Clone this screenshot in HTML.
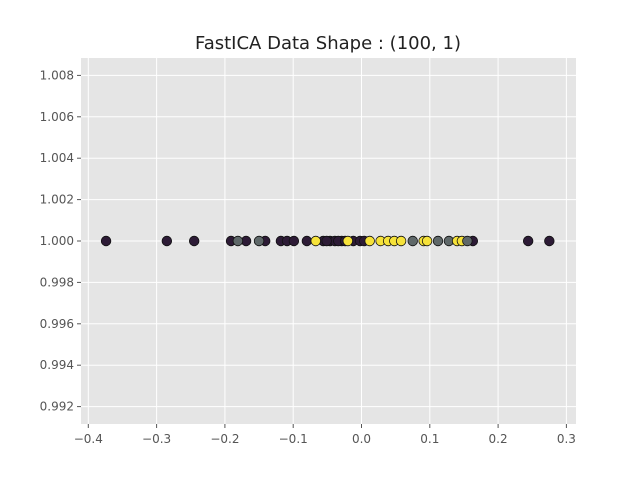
<!DOCTYPE html>
<html><head><meta charset="utf-8"><style>
body{margin:0;background:#fff;}
svg text{font-family:"DejaVu Sans","Liberation Sans",sans-serif;}
</style></head><body>
<svg id="chart" width="640" height="478" xmlns="http://www.w3.org/2000/svg">
<text x="328" y="49" text-anchor="middle" font-size="18" fill="#222">FastICA Data Shape : (100, 1)</text>
<rect x="81" y="58" width="495" height="366" fill="#e5e5e5"/>
<g id="grid"></g><g id="ticks"></g><g id="points"></g>
</svg>
<script>
const xTicks=[-0.4,-0.3,-0.2,-0.1,0.0,0.1,0.2,0.3];
const xTickLabels=["−0.4","−0.3","−0.2","−0.1","0.0","0.1","0.2","0.3"];
const yTicks=[0.992,0.994,0.996,0.998,1.000,1.002,1.004,1.006,1.008];
const yTickLabels=["0.992","0.994","0.996","0.998","1.000","1.002","1.004","1.006","1.008"];
const xValues=[-0.374,-0.285,-0.245,-0.191,-0.181,-0.169,-0.150,-0.141,-0.118,-0.109,-0.099,-0.080,-0.067,-0.056,-0.046,-0.039,-0.029,-0.020,-0.012,-0.002,0.012,0.028,0.039,0.048,0.058,0.075,0.091,0.096,0.112,0.128,0.140,0.147,0.155,0.163,0.244,0.275,-0.051,-0.034,-0.024,0.004];
const yValues=xValues.map(()=>1.0);
const labels=[0,0,0,0,1,0,1,0,0,0,0,0,2,0,0,0,0,2,0,0,2,2,2,2,2,1,2,2,1,1,2,2,1,0,0,0,0,0,0,0];
const colors=["#2d1b36","#5f6869","#f6e23a"];
const L=81,R=576,T=58,B=424;
const X=v=>361.5+(v)*683;
const Y=v=>241-(v-1.0)/0.002*41.4;
const ns="http://www.w3.org/2000/svg";
const grid=document.getElementById('grid'),ticks=document.getElementById('ticks'),pts=document.getElementById('points');
function mk(tag,attrs,parent){const e=document.createElementNS(ns,tag);for(const k in attrs)e.setAttribute(k,attrs[k]);parent.appendChild(e);return e;}
xTicks.forEach((t,i)=>{const x=X(t);
 const g=mk('line',{x1:x,x2:x,y1:T,y2:B,stroke:'#fff','stroke-width':1},grid);
 
 
 const tk=mk('line',{x1:x,x2:x,y1:B,y2:B+4,stroke:'#555'},ticks);
 
 
 const tx=mk('text',{x:x,y:B+19,'text-anchor':'middle','font-size':12,fill:'#555'},ticks);tx.textContent=xTickLabels[i];
 
 });
yTicks.forEach((t,i)=>{const y=Y(t);
 const g=mk('line',{x1:L,x2:R,y1:y,y2:y,stroke:'#fff','stroke-width':1},grid);
 
 
 const tk=mk('line',{x1:L-4,x2:L,y1:y,y2:y,stroke:'#555'},ticks);
 
 
 const tx=mk('text',{x:L-7,y:y+4,'text-anchor':'end','font-size':12,fill:'#555'},ticks);tx.textContent=yTickLabels[i];
 
 });
const order=xValues.map((v,i)=>i).sort((a,b)=>(labels[a]===0?0:1)-(labels[b]===0?0:1));
order.forEach(i=>{const v=xValues[i];const c=mk('circle',{cx:X(v),cy:Y(yValues[i]),r:4.8,fill:colors[labels[i]],stroke:'#111','stroke-width':0.8},pts);
 
 });
</script>
</body></html>
